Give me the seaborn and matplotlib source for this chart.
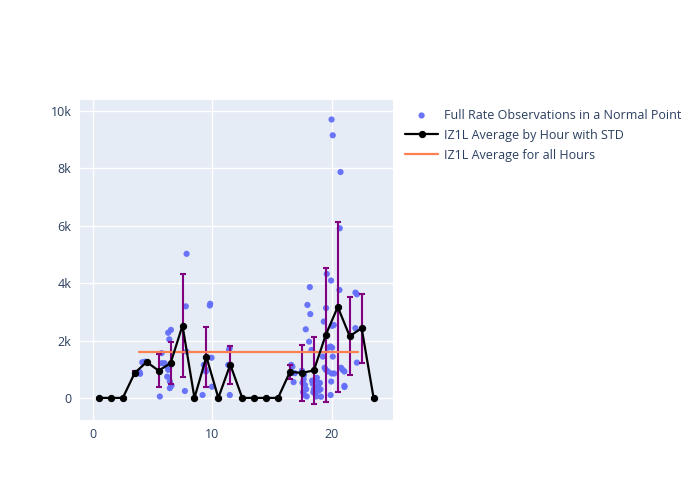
import numpy as np
import pandas as pd
import matplotlib
matplotlib.use("Agg")
import matplotlib.pyplot as plt
import seaborn as sns
from matplotlib.ticker import FuncFormatter

# 관측값 (시간, 속도)
obs_hour = [3.90, 3.95, 4.13, 4.35, 4.45,
            5.60, 5.75, 5.77,
            6.00, 6.22, 6.30, 6.30, 6.39, 6.44, 6.44, 6.53, 6.58, 6.20, 6.50,
            7.70, 7.78, 7.84, 7.84,
            9.18, 9.29, 9.46, 9.79, 9.82, 9.93, 9.40, 9.97,
            11.33, 11.40, 11.45, 11.46,
            16.60, 16.70, 16.80, 16.90,
            17.50, 17.55, 17.60, 17.65, 17.68, 17.70, 17.75, 17.82, 17.85, 17.90, 17.96,
            18.10, 18.16, 18.20, 18.30, 18.35, 18.40, 18.45, 18.50, 18.55, 18.60,
            18.65, 18.70, 18.75, 18.80, 18.90, 18.95,
            19.00, 19.05, 19.10, 19.25, 19.33, 19.40, 19.50, 19.52, 19.58, 19.67,
            19.67, 19.90, 19.90, 19.94, 19.95, 19.98,
            20.00, 20.03, 20.03, 20.08, 20.08, 20.17, 20.20, 20.64, 20.67, 20.73,
            20.78, 20.90,
            21.06, 21.06, 21.06, 21.98, 21.98,
            22.10, 22.10]
obs_rate = [900, 840, 1240, 1260, 1250,
            50, 1560, 1210,
            1210, 740, 2270, 980, 2040, 570, 340, 2370, 430, 1100, 1150,
            240, 3190, 5020, 1610,
            100, 1150, 920, 3220, 3280, 1400, 1000, 390,
            1150, 1670, 1740, 100,
            1150, 1090, 550, 860,
            950, 530, 200, 650, 800, 100, 450, 2390, 300, 50, 3240,
            1960, 3860, 2920, 1670, 600, 500, 200, 300, 600, 150,
            350, 50, 700, 400, 250, 520,
            520, 300, 40, 1440, 2660, 1050, 980, 3130, 4320, 1750,
            920, 1790, 100, 4090, 570, 9700,
            850, 2510, 1750, 9150, 1440, 2540, 850, 3760, 5910, 7870,
            1050, 980,
            920, 420, 380, 3670, 2430,
            3610, 1230]

# 시간별 평균 / 표준편차
hours = [0.5, 1.5, 2.5, 3.5, 4.5, 5.5, 6.5, 7.5, 8.5, 9.5, 10.5, 11.5,
         12.5, 13.5, 14.5, 15.5, 16.5, 17.5, 18.5, 19.5, 20.5, 21.5, 22.5, 23.5]
hour_mean = [0, 0, 0, 870, 1250, 950, 1210, 2520, 0, 1430, 0, 1160,
             0, 0, 0, 0, 910, 870, 960, 2200, 3170, 2150, 2430, 0]
hour_std = [0, 0, 0, 60, 0, 570, 740, 1780, 0, 1050, 0, 660,
            0, 0, 0, 0, 250, 990, 1160, 2330, 2970, 1360, 1200, 0]

overall_mean = 1610
overall_span = [3.87, 22.2]

obs = pd.DataFrame({"hour": obs_hour, "rate": obs_rate})
avg = pd.DataFrame({"hour": hours, "mean": hour_mean, "std": hour_std})

sns.set_theme(style="darkgrid", rc={
    "axes.facecolor": "#E5ECF6",
    "grid.color": "white",
    "grid.linewidth": 1.0,
    "axes.edgecolor": "#E5ECF6",
})
plt.rcParams["font.family"] = ["Open Sans", "DejaVu Sans"]

fig = plt.figure(figsize=(7, 5), dpi=100)
ax = fig.add_axes([0.114, 0.16, 0.447, 0.64])

sns.scatterplot(data=obs, x="hour", y="rate", ax=ax, color="#636EFA",
                s=20, edgecolor="none", alpha=0.95, zorder=3,
                label="Full Rate Observations in a Normal Point")

ax.errorbar(avg["hour"], avg["mean"], yerr=avg["std"], fmt="none",
            ecolor="purple", elinewidth=1.5, capsize=2.5, capthick=1.5, zorder=4)
sns.lineplot(data=avg, x="hour", y="mean", ax=ax, color="black", lw=1.6,
             marker="o", markersize=4.5, markeredgecolor="black", zorder=5,
             label="IZ1L Average by Hour with STD")

ax.plot(overall_span, [overall_mean, overall_mean], color="#FF7F50", lw=1.6,
        zorder=4, label="IZ1L Average for all Hours")

ax.set_xlim(-1.1, 25.1)
ax.set_ylim(-770, 10380)
ax.set_xticks([0, 10, 20])
ax.set_yticks([0, 2000, 4000, 6000, 8000, 10000])
ax.yaxis.set_major_formatter(FuncFormatter(lambda v, p: "0" if v == 0 else f"{int(v/1000)}k"))
ax.set_xlabel("")
ax.set_ylabel("")
ax.tick_params(colors="#2a3f5f", labelsize=9, length=0, pad=6)
for s in ax.spines.values():
    s.set_visible(False)

handles, labels = ax.get_legend_handles_labels()
ax.get_legend().remove()
leg = fig.legend(handles, labels, loc="upper left", bbox_to_anchor=(0.563, 0.805),
                 frameon=False, fontsize=9, handlelength=2.6, labelspacing=0.55,
                 handletextpad=0.5)
for t in leg.get_texts():
    t.set_color("#2a3f5f")

fig.savefig("out.png", dpi=100)
